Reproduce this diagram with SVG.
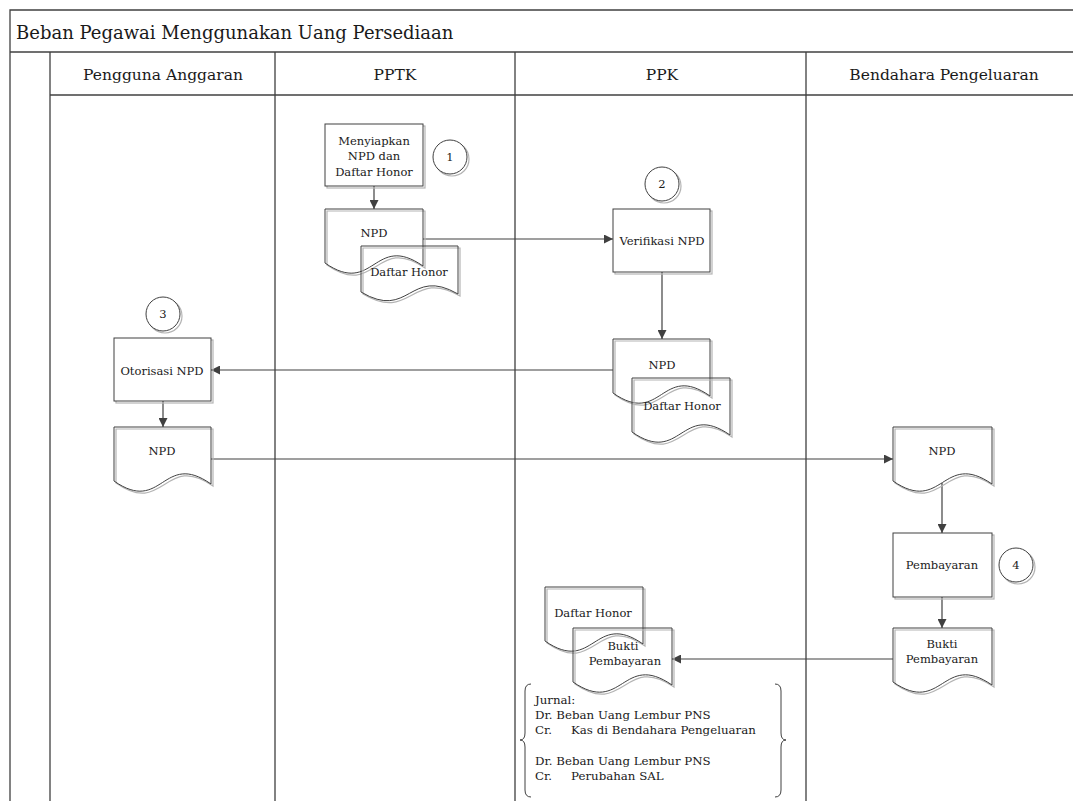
<svg xmlns="http://www.w3.org/2000/svg" width="1073" height="801" viewBox="0 0 1073 801">
<style>
.bg{fill:#ffffff}
.lane{stroke:#404040;stroke-width:1.3;fill:none}
.sh{fill:none;stroke:#b4b4b4;stroke-width:1.2}
.ol{fill:none;stroke:#404040;stroke-width:1}
.olw{fill:#ffffff;stroke:#404040;stroke-width:1}
.cn{stroke:#404040;stroke-width:1.2;fill:none}
.t{font-family:"DejaVu Serif","Liberation Serif",serif;fill:#1a1a1a;text-anchor:middle}
.title{font-size:18px;text-anchor:start}
.hdr{font-size:15.5px}
.n{font-size:11.5px}
.j{font-family:"DejaVu Serif","Liberation Serif",serif;font-size:11.8px;fill:#1a1a1a}
.br{fill:none;stroke:#404040;stroke-width:1}
</style>
<defs>
<marker id="ah" viewBox="0 0 10 10" refX="10" refY="5" markerWidth="10" markerHeight="9" markerUnits="userSpaceOnUse" orient="auto">
<path d="M0,0 L10,5 L0,10 z" fill="#404040"/>
</marker>
</defs>
<rect class="bg" x="0" y="0" width="1073" height="801"/>

<g id="swimlanes">
<path class="lane" d="M10 801V10H1073"/>
<path class="lane" d="M10 52H1073"/>
<path class="lane" d="M50 95H1073"/>
<path class="lane" d="M50 52V801M275 52V801M515 52V801M806 52V801"/>
<text class="t title" x="16" y="39">Beban Pegawai Menggunakan Uang Persediaan</text>
<text class="t hdr" x="163" y="80">Pengguna Anggaran</text>
<text class="t hdr" x="395" y="80">PPTK</text>
<text class="t hdr" x="662" y="80">PPK</text>
<text class="t hdr" x="944" y="80">Bendahara Pengeluaran</text>
</g>

<g id="connectors">
<path class="cn" d="M374 186V209" marker-end="url(#ah)"/>
<path class="cn" d="M423 239H613" marker-end="url(#ah)"/>
<path class="cn" d="M662 272V339" marker-end="url(#ah)"/>
<path class="cn" d="M613 370H211" marker-end="url(#ah)"/>
<path class="cn" d="M163 401V427" marker-end="url(#ah)"/>
<path class="cn" d="M211 459H893" marker-end="url(#ah)"/>
<path class="cn" d="M942 483V533" marker-end="url(#ah)"/>
<path class="cn" d="M942 597V628" marker-end="url(#ah)"/>
<path class="cn" d="M893 659H672" marker-end="url(#ah)"/>
</g>

<g id="menyiapkan">
<rect class="sh" x="327" y="126" width="98" height="62"/>
<rect class="olw" x="325" y="124" width="98" height="62"/>
<text class="t n" x="374" y="145">Menyiapkan</text>
<text class="t n" x="374" y="160">NPD dan</text>
<text class="t n" x="374" y="176">Daftar Honor</text>
</g>
<g id="step1">
<circle class="sh" cx="452" cy="159" r="17"/>
<circle class="olw" cx="450" cy="157" r="17"/>
<text class="t n" x="450" y="161">1</text>
</g>
<g id="pptk-npd">
<path class="sh" transform="translate(2,2)" d="M325 209H423V266C374 232 374 297 325 263Z"/>
<path class="ol" d="M325 209H423V266C374 232 374 297 325 263Z"/>
<text class="t n" x="374" y="237">NPD</text>
</g>
<g id="pptk-daftar-honor">
<path class="sh" transform="translate(2,2)" d="M361 246H458V294C409.5 266 409.5 321 361 292Z"/>
<path class="ol" d="M361 246H458V294C409.5 266 409.5 321 361 292Z"/>
<text class="t n" x="409" y="276">Daftar Honor</text>
</g>

<g id="step2">
<circle class="sh" cx="664" cy="186" r="17"/>
<circle class="olw" cx="662" cy="184" r="17"/>
<text class="t n" x="662" y="188">2</text>
</g>
<g id="verifikasi">
<rect class="sh" x="615" y="211" width="97" height="63"/>
<rect class="olw" x="613" y="209" width="97" height="63"/>
<text class="t n" x="662" y="245">Verifikasi NPD</text>
</g>
<g id="ppk-npd">
<path class="sh" transform="translate(2,2)" d="M613 339H710V396C661.5 362 661.5 427 613 393Z"/>
<path class="ol" d="M613 339H710V396C661.5 362 661.5 427 613 393Z"/>
<text class="t n" x="662" y="369">NPD</text>
</g>
<g id="ppk-daftar-honor">
<path class="sh" transform="translate(2,2)" d="M632 378H730V435C681 401 681 466 632 432Z"/>
<path class="ol" d="M632 378H730V435C681 401 681 466 632 432Z"/>
<text class="t n" x="682" y="410">Daftar Honor</text>
</g>

<g id="step3">
<circle class="sh" cx="165" cy="316" r="17"/>
<circle class="olw" cx="163" cy="314" r="17"/>
<text class="t n" x="163" y="318">3</text>
</g>
<g id="otorisasi">
<rect class="sh" x="116" y="340" width="97" height="63"/>
<rect class="olw" x="114" y="338" width="97" height="63"/>
<text class="t n" x="162" y="375">Otorisasi NPD</text>
</g>
<g id="pa-npd">
<path class="sh" transform="translate(2,2)" d="M114 427H211V484C162.5 450 162.5 515 114 481Z"/>
<path class="ol" d="M114 427H211V484C162.5 450 162.5 515 114 481Z"/>
<text class="t n" x="162" y="455">NPD</text>
</g>

<g id="bp-npd">
<path class="sh" transform="translate(2,2)" d="M893 427H992V484C942.5 450 942.5 515 893 481Z"/>
<path class="ol" d="M893 427H992V484C942.5 450 942.5 515 893 481Z"/>
<text class="t n" x="942" y="455">NPD</text>
</g>
<g id="pembayaran">
<rect class="sh" x="895" y="535" width="99" height="64"/>
<rect class="olw" x="893" y="533" width="99" height="64"/>
<text class="t n" x="942" y="569">Pembayaran</text>
</g>
<g id="step4">
<circle class="sh" cx="1018" cy="567" r="17"/>
<circle class="olw" cx="1016" cy="565" r="17"/>
<text class="t n" x="1016" y="569">4</text>
</g>
<g id="bp-bukti">
<path class="sh" transform="translate(2,2)" d="M893 628H992V685C942.5 651 942.5 716 893 682Z"/>
<path class="ol" d="M893 628H992V685C942.5 651 942.5 716 893 682Z"/>
<text class="t n" x="942" y="648">Bukti</text>
<text class="t n" x="942" y="663">Pembayaran</text>
</g>

<g id="ppk-daftar-honor-2">
<path class="sh" transform="translate(2,2)" d="M545 587H643V644C594 610 594 675 545 641Z"/>
<path class="ol" d="M545 587H643V644C594 610 594 675 545 641Z"/>
<text class="t n" x="593" y="617">Daftar Honor</text>
</g>
<g id="ppk-bukti">
<path class="sh" transform="translate(2,2)" d="M573 628H672V685C622.5 651 622.5 716 573 682Z"/>
<path class="ol" d="M573 628H672V685C622.5 651 622.5 716 573 682Z"/>
<text class="t n" x="623" y="650">Bukti</text>
<text class="t n" x="625" y="665">Pembayaran</text>
</g>

<g id="jurnal">
<path class="br" d="M531 684Q525 684 525 691V733Q525 740 520 740Q525 740 525 747V790Q525 797 531 797"/>
<path class="br" d="M775 684Q781 684 781 691V733Q781 740 786 740Q781 740 781 747V790Q781 797 775 797"/>
<text class="j" x="535" y="704">Jurnal:</text>
<text class="j" x="535" y="719">Dr. Beban Uang Lembur PNS</text>
<text class="j" x="535" y="734">Cr.</text>
<text class="j" x="571" y="734">Kas di Bendahara Pengeluaran</text>
<text class="j" x="535" y="765">Dr. Beban Uang Lembur PNS</text>
<text class="j" x="535" y="780">Cr.</text>
<text class="j" x="571" y="780">Perubahan SAL</text>
</g>
</svg>
